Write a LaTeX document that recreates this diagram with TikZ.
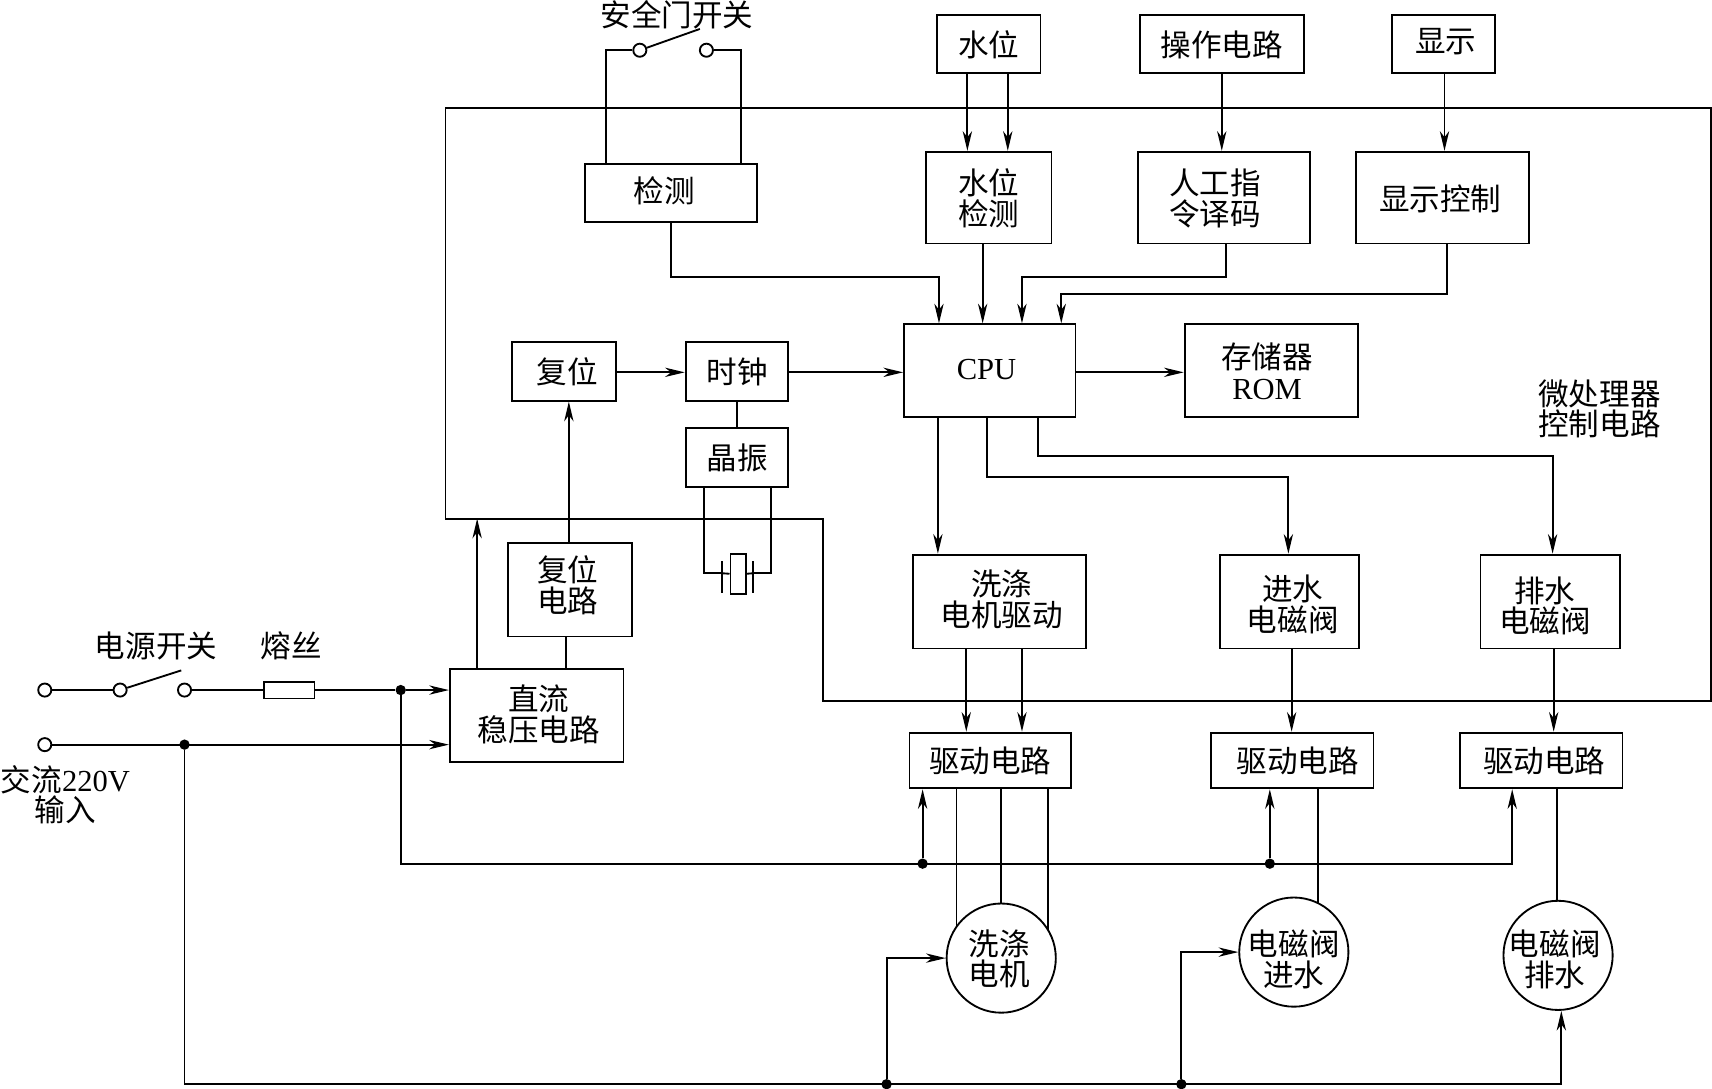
\documentclass[tikz,border=0pt]{standalone}
\usepackage{fontspec}
\setmainfont{Liberation Serif}
\newfontfamily\cjk{Noto Sans CJK SC}
\usetikzlibrary{arrows.meta,backgrounds}
\newcommand\fz{\fontsize{28}{28}\selectfont}
\newcommand\tx[3]{\raisebox{-\dimexpr #2pt+7pt\relax}[0pt][0pt]{\makebox[0pt][c]{\hspace*{#1pt}\hspace*{#1pt}$\vcenter{\baselineskip=28pt\lineskiplimit=-99pt\let\\\cr\halign{\hfil##\hfil\cr #3\crcr}}$}}}
\tikzset{
  ln/.style={line width=1.7pt,black},
  arr/.style={ln,-{Stealth[length=18pt,width=8.5pt,inset=5.5pt]}},
  boxn/.style={draw,line width=1.7pt,fill=white,inner sep=0pt,font=\fz},
  roundn/.style={draw,circle,line width=1.7pt,fill=white,inner sep=0pt,minimum size=100pt,font=\fz},
  labeln/.style={inner sep=0pt,font=\fz},
  termn/.style={draw,circle,line width=1.7pt,fill=white,inner sep=0pt,minimum size=12pt},
  dotn/.style={circle,fill=black,inner sep=0pt,minimum size=9.5pt}
}
% name, centre x, centre y, width, height, text dx, text dy, text
\newcommand\bx[8]{\node[boxn,minimum width=#4pt,minimum height=#5pt] (#1) at (#2,#3) {\tx{#6}{#7}{#8}};}
\newcommand\lb[4]{\node[labeln] (#1) at (#2,#3) {\tx{0}{0}{#4}};}
\begin{document}
\begin{tikzpicture}[x=1pt,y=-1pt]
\useasboundingbox (0,0) rectangle (1568,997);
% blocks
\bx{sw}{905.5}{40.5}{95}{53}{0}{0}{\cjk 水位}
\bx{cz}{1119}{40.5}{150}{53}{0}{0}{\cjk 操作电路}
\bx{xs}{1322}{40.5}{94}{53}{2}{-3}{\cjk 显示}
\bx{jc}{614.5}{176.5}{157}{53}{-6}{-3}{\cjk 检测}
\bx{swjc}{905.5}{181}{115}{84}{0}{0}{\cjk 水位\\\cjk 检测}
\bx{rg}{1121}{181}{158}{84}{-8}{0}{\cjk 人工指\\\cjk 令译码}
\bx{xk}{1321}{181}{158}{84}{-2}{0}{\cjk 显示控制}
\bx{fw}{516.5}{340}{95}{54}{3}{0}{\cjk 复位}
\bx{sz}{675}{340}{94}{54}{0}{0}{\cjk 时钟}
\bx{jz}{675}{419}{94}{54}{0}{0}{\cjk 晶振}
\bx{cpu}{906.5}{339.5}{157}{85}{-3}{-2}{CPU}
\bx{rom}{1164.5}{339.5}{159}{85}{-4}{0}{\cjk 存储器\\ROM}
\bx{fwd}{522}{540}{114}{86}{-2}{-5}{\cjk 复位\\\cjk 电路}
\bx{zl}{491.5}{655.5}{159}{85}{2}{-2}{\cjk 直流\\\cjk 稳压电路}
\bx{xd}{915.5}{551}{159}{86}{2}{-3}{\cjk 洗涤\\\cjk 电机驱动}
\bx{js}{1181}{551}{128}{86}{3}{2}{\cjk 进水\\\cjk 电磁阀}
\bx{ps}{1420}{551}{128}{86}{-5}{3}{\cjk 排水\\\cjk 电磁阀}
\bx{qa}{907}{696.5}{148}{51}{0}{0}{\cjk 驱动电路}
\bx{qb}{1183.5}{696.5}{149}{51}{5}{0}{\cjk 驱动电路}
\bx{qc}{1411.5}{696.5}{149}{51}{3}{0}{\cjk 驱动电路}
\node[roundn] (ma) at (917,877.5) {\tx{-2}{0}{\cjk 洗涤\\\cjk 电机}};
\node[roundn] (mb) at (1185,872) {\tx{0}{6}{\cjk 电磁阀\\\cjk 进水}};
\node[roundn] (mc) at (1427,875) {\tx{-3}{3}{\cjk 电磁阀\\\cjk 排水}};
% free labels
\lb{la}{620}{13}{\cjk 安全门开关}
\lb{lb}{143}{591}{\cjk 电源开关}
\lb{lc}{267}{591}{\cjk 熔丝}
\lb{ld}{60}{727}{\cjk 交流{\rmfamily 220V}\\\cjk 输入}
\lb{le}{1465}{373.5}{\cjk 微处理器\\\cjk 控制电路}
% terminals and junctions
\node[termn] (ta) at (41,632) {};
\node[termn] (tb) at (110,632) {};
\node[termn] (tc) at (169,632) {};
\node[termn] (td) at (41,682) {};
\node[termn] (te) at (586,46) {};
\node[termn] (tf) at (647,46) {};
\node[dotn] (ja) at (367,632) {};
\node[dotn] (jb) at (169,682) {};
\node[dotn] (jc1) at (845,791) {};
\node[dotn] (jd) at (1163,791) {};
\node[dotn] (je) at (812,993) {};
\node[dotn] (jf) at (1082,993) {};
% fuse and crystal
\node[draw,line width=1.7pt,fill=white,inner sep=0pt,minimum width=46pt,minimum height=15.5pt] (fuse) at (265,632) {};
\node[draw,line width=1.7pt,fill=white,inner sep=0pt,minimum width=14pt,minimum height=37pt] (xt) at (676,525.5) {};
\coordinate (bla) at (166,614);
\coordinate (blb) at (641,26.5);
\coordinate (pla) at (661,514);
\coordinate (plb) at (661,543);
\coordinate (plc) at (690,514);
\coordinate (pld) at (690,543);
\coordinate (pl) at (661,525);
\coordinate (pr) at (690,525);
\coordinate (ca) at (754,475);
\coordinate (cb) at (408,475);
\coordinate (cc) at (408,99);
\coordinate (cd) at (1567,99);
\coordinate (ce) at (1567,642);
\coordinate (cf) at (754,642);
\begin{scope}[on background layer]
% micro-processor frame
\draw[ln] (cc) -- (cd) -- (ce) -- (cf) -- (ca) -- (cb) -- cycle;
% inputs
\draw[arr] (886,0 |- sw.south) -- (886,0 |- swjc.north);
\draw[arr] (923,0 |- sw.south) -- (923,0 |- swjc.north);
\draw[arr] (1119,0 |- cz.south) -- (1119,0 |- rg.north);
\draw[arr] (1323,0 |- xs.south) -- (1323,0 |- xk.north);
\draw[arr] (jc.south) |- (860,254) -- (860,0 |- cpu.north);
\draw[arr] (900,0 |- swjc.south) -- (900,0 |- cpu.north);
\draw[arr] (1123,0 |- rg.south) |- (936,254) -- (936,0 |- cpu.north);
\draw[arr] (1325,0 |- xk.south) |- (972,269) -- (972,0 |- cpu.north);
% safety switch
\draw[ln] (555,0 |- jc.north) |- (te.west);
\draw[ln] (679,0 |- jc.north) |- (tf.east);
\draw[ln] (te) -- (blb);
% clock row
\draw[arr] ([yshift=-1pt]fw.east) -- ([yshift=-1pt]sz.west);
\draw[arr] ([yshift=-1pt]sz.east) -- ([yshift=-1pt]cpu.west |- sz.east);
\draw[arr] ([yshift=-1.5pt]cpu.east) -- ([yshift=-1.5pt]rom.west);
\draw[ln] (sz.south) -- (jz.north);
\draw[ln] (645,0 |- jz.south) |- (pl);
\draw[ln] (706,0 |- jz.south) |- (pr);
\draw[ln] (pla) -- (plb);
\draw[ln] (plc) -- (pld);
\draw[ln] (pl) -- (xt.west);
\draw[ln] (pr) -- (xt.east);
% reset and supply
\draw[arr] (521,0 |- fwd.north) -- (521,0 |- fw.south);
\draw[ln] (518,0 |- zl.north) -- (518,0 |- fwd.south);
\draw[arr] (437,0 |- zl.north) -- (437,0 |- ca);
% outputs of the CPU
\draw[arr] (859,0 |- cpu.south) -- (859,0 |- xd.north);
\draw[arr] (904,0 |- cpu.south) |- (1180,437) -- (1180,0 |- js.north);
\draw[arr] (951,0 |- cpu.south) |- (1422,418) -- (1422,0 |- ps.north);
\draw[arr] (885,0 |- xd.south) -- (885,0 |- qa.north);
\draw[arr] (936,0 |- xd.south) -- (936,0 |- qa.north);
\draw[arr] (1183,0 |- js.south) -- (1183,0 |- qb.north);
\draw[arr] (1423,0 |- ps.south) -- (1423,0 |- qc.north);
% drivers to loads
\draw[ln] (876,0 |- qa.south) -- (876,0 |- ma.center);
\draw[ln] (917,0 |- qa.south) -- (ma.north);
\draw[ln] (960,0 |- qa.south) -- (960,0 |- ma.center);
\draw[ln] (1207,0 |- qb.south) -- (1207,0 |- mb.center);
\draw[ln] (1426,0 |- qc.south) -- (1426,0 |- mc.north);
% mains
\draw[ln] (ta) -- (tb);
\draw[ln] (tb) -- (bla);
\draw[ln] (tc) -- (fuse.west);
\draw[ln] (fuse.east) -- (ja);
\draw[arr] (ja) -- (zl.west |- ja);
\draw[arr] (td) -- (zl.west |- td);
\draw[arr] (ja) |- (1385,791) -- (1385,0 |- qc.south);
\draw[arr] (jc1) -- (jc1 |- qa.south);
\draw[arr] (jd) -- (jd |- qb.south);
\draw[arr] (jb) |- (1430,993) -- (1430,0 |- mc.south);
\draw[arr] (je) |- (ma.west);
\draw[arr] (jf) |- (mb.west);
\end{scope}
\end{tikzpicture}
\end{document}
